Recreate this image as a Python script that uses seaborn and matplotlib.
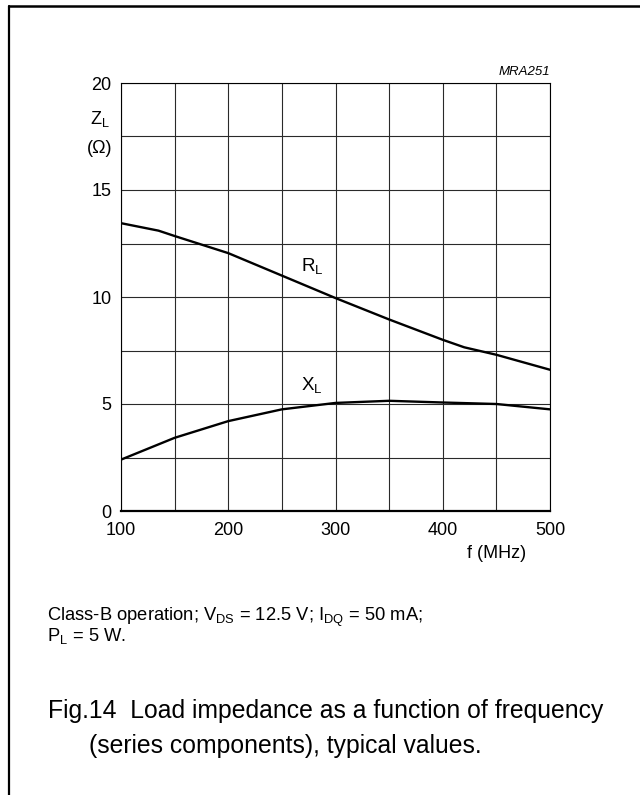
import pandas as pd
import matplotlib.pyplot as plt
import matplotlib.lines as mlines
import seaborn as sns

# =========================================================
# DATA
# =========================================================
freq_r = [100, 135, 150, 200, 250, 300, 350, 400, 420, 450, 500]
r_l = [13.45, 13.1, 12.85, 12.05, 11.0, 9.95, 8.95, 8.0, 7.65, 7.3, 6.6]

freq_x = [100, 150, 200, 250, 300, 350, 400, 450, 500]
x_l = [2.4, 3.42, 4.2, 4.75, 5.05, 5.15, 5.07, 5.0, 4.75]

x_ticks = [100, 200, 300, 400, 500]
y_ticks = [0, 5, 10, 15, 20]
x_minor = [150, 250, 350, 450]
y_minor = [2.5, 7.5, 12.5, 17.5]

df_r = pd.DataFrame({"f": freq_r, "z": r_l})
df_x = pd.DataFrame({"f": freq_x, "z": x_l})

# =========================================================
# STYLE
# =========================================================
sns.set_theme(style="white")
plt.rcParams["font.family"] = ["Liberation Sans", "DejaVu Sans"]
plt.rcParams["mathtext.fontset"] = "custom"
plt.rcParams["mathtext.rm"] = "Liberation Sans"
plt.rcParams["mathtext.it"] = "Liberation Sans:italic"
plt.rcParams["text.color"] = "black"
plt.rcParams["xtick.color"] = "black"
plt.rcParams["ytick.color"] = "black"

fig = plt.figure(figsize=(6.4, 7.95), dpi=100)
ax = fig.add_axes([121 / 640, 1 - 511 / 795, 429 / 640, 428 / 795])

# =========================================================
# CURVES
# =========================================================
sns.lineplot(data=df_r, x="f", y="z", color="black", lw=1.7, ax=ax)
sns.lineplot(data=df_x, x="f", y="z", color="black", lw=1.7, ax=ax)

ax.set_xlim(100, 500)
ax.set_ylim(0, 20)
ax.set_xticks(x_ticks)
ax.set_yticks(y_ticks)
ax.set_xticks(x_minor, minor=True)
ax.set_yticks(y_minor, minor=True)
ax.tick_params(which="both", length=0, labelsize=13, labelcolor="black")
ax.tick_params(axis="x", pad=8)
ax.tick_params(axis="y", pad=7)
ax.grid(True, which="both", color="#2a2a2a", lw=0.8)
ax.set_xlabel("")
ax.set_ylabel("")
for side in ["left", "right", "top"]:
    ax.spines[side].set_color("black")
    ax.spines[side].set_linewidth(0.8)
ax.spines["bottom"].set_color("black")
ax.spines["bottom"].set_linewidth(1.6)

# axis labels
ax.text(-0.026, 0.915, r"Z$_{\rm L}$", transform=ax.transAxes,
        ha="right", va="center", fontsize=13)
ax.text(-0.02, 0.848, "(\u03a9)", transform=ax.transAxes,
        ha="right", va="center", fontsize=13)
ax.text(0.944, -0.11, "f (MHz)", transform=ax.transAxes,
        ha="right", va="baseline", fontsize=13)
ax.text(1.0, 1.012, "MRA251", transform=ax.transAxes,
        ha="right", va="bottom", fontsize=9.5, style="italic")

# curve labels
ax.text(268, 11.45, r"R$_{\rm L}$", ha="left", va="center", fontsize=13.5)
ax.text(268, 5.9, r"X$_{\rm L}$", ha="left", va="center", fontsize=13.5)

# =========================================================
# CAPTION
# =========================================================
fig.text(47 / 640, 1 - 606 / 795,
         "Class-B operation; V$_{\\rm DS}$ = 12.5 V; I$_{\\rm DQ}$ = 50 mA;\n"
         "P$_{\\rm L}$ = 5 W.",
         ha="left", va="top", fontsize=13.2, linespacing=0.82)
fig.text(48 / 640, 1 - 718 / 795,
         "Fig.14  Load impedance as a function of frequency",
         ha="left", va="baseline", fontsize=17.8)
fig.text(89 / 640, 1 - 753 / 795,
         "(series components), typical values.",
         ha="left", va="baseline", fontsize=17.8)

# frame (left and top edges)
fig.add_artist(mlines.Line2D([9 / 640, 9 / 640], [0, 1 - 6 / 795],
                             color="black", lw=1.6))
fig.add_artist(mlines.Line2D([9 / 640, 1], [1 - 6 / 795, 1 - 6 / 795],
                             color="black", lw=1.8))

fig.savefig("out.png", dpi=100)
